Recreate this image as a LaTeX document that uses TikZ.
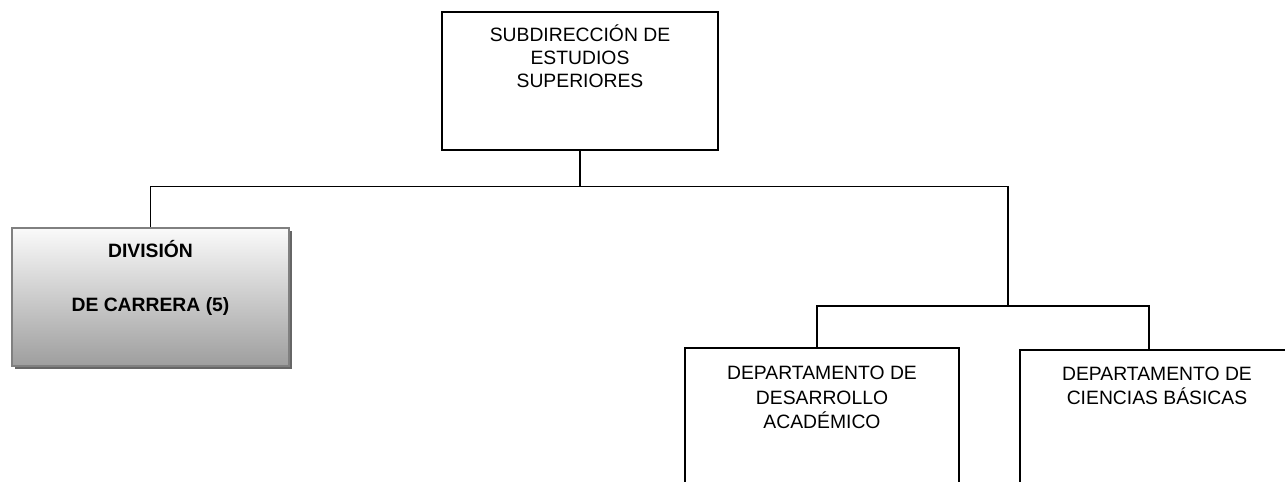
\documentclass[tikz,border=0pt]{standalone}
\usepackage{fontspec}
\setmainfont{Liberation Sans}
\usetikzlibrary{positioning,shadows}
\tikzset{
  caja/.style={draw, line width=.8pt, inner sep=0pt},
  division/.style={draw=black!50, line width=1pt, inner sep=0pt,
    top color=black!2, bottom color=black!38,
    drop shadow={shadow xshift=.06cm, shadow yshift=-.06cm, fill=black!60, opacity=1}},
  rotulo/.style={align=center, inner sep=0pt, anchor=base, font=\fontsize{11}{13.2}\selectfont},
  linea/.style={line width=.8pt},
}
\begin{document}
\begin{tikzpicture}[x=.02cm, y=-.02cm]
\useasboundingbox (0,0) rectangle (1285,482);
\clip (0,0) rectangle (1285,482);
% cajas
\node[caja, minimum width=5.52cm, minimum height=2.76cm] (sub) at (580,81) {};
\node[division, minimum width=5.54cm, minimum height=2.76cm] (div) at (150.5,297) {};
\node[caja, minimum width=5.48cm, minimum height=3.44cm] (dep1) at (822,434) {};
\node[caja, minimum width=5.48cm, minimum height=3.4cm] (dep2) at (1157,435) {};
% textos (base = ultima linea)
\node[rotulo] (tsub) at (580,88) {SUBDIRECCIÓN DE\\ESTUDIOS\\SUPERIORES};
\node[rotulo, font=\fontsize{11}{13.2}\selectfont\bfseries] (tdiv) at (150.5,312) {DIVISIÓN\\[18pt]DE CARRERA (5)};
\node[rotulo, font=\fontsize{11}{14.2}\selectfont] (tdep1) at (822,429) {DEPARTAMENTO DE\\DESARROLLO\\ACADÉMICO};
\node[rotulo, font=\fontsize{11}{14.2}\selectfont] (tdep2) at (1157,405) {DEPARTAMENTO DE\\CIENCIAS BÁSICAS};
% lineas
\coordinate (nudo) at (1008,306);
\draw[linea] (sub.south) -- ++(0,36) -| (div.north);
\draw[linea] (sub.south) -- ++(0,36) -| (nudo);
\draw[linea] (nudo) -| ([xshift=-.1cm]dep1.north);
\draw[linea] (nudo) -| ([xshift=-.16cm]dep2.north);
\end{tikzpicture}
\end{document}
